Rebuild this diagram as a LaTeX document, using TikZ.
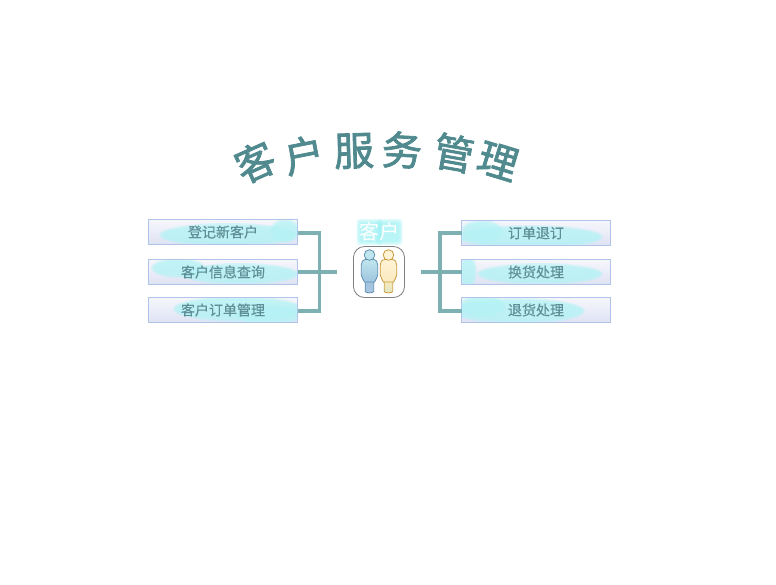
\documentclass[tikz,border=0pt]{standalone}
\usepackage{fontspec}
\setmainfont{Noto Sans CJK SC}
\newfontfamily\titlefont{Noto Sans CJK SC}[FakeBold=1.9]
\newfontfamily\itemfont{Noto Sans CJK SC}[FakeBold=0.35]
\definecolor{boxline}{HTML}{AFC4E8}
\definecolor{conn}{HTML}{7CB0B2}
\definecolor{labeltext}{HTML}{5F8F98}
\definecolor{titletext}{HTML}{508A8E}
\definecolor{blobc}{HTML}{B4F3F5}
\definecolor{lav}{HTML}{DFE2F4}
\definecolor{glowc}{HTML}{8FEFF2}
\definecolor{bluea}{HTML}{9FC4DE}
\definecolor{blueb}{HTML}{A9C4E2}
\definecolor{bluec}{HTML}{BFE6EE}
\definecolor{blueline}{HTML}{5F8FB0}
\definecolor{yela}{HTML}{FBE9BF}
\definecolor{yelb}{HTML}{DDE6C0}
\definecolor{yelc}{HTML}{FFF4D6}
\definecolor{yelline}{HTML}{C99A3A}
\tikzset{
  x=1pt,y=-1pt,
  every node/.style={inner sep=0pt,outer sep=0pt},
  blob/.style={fill=blobc,opacity=.42},
  itembox/.style={draw=boxline,line width=1.3pt,minimum width=149pt,minimum height=25pt,
    font=\itemfont\fontsize{14}{14}\selectfont,text=labeltext},
  connector/.style={draw=conn,line width=3.2pt},
  titlechar/.style={font=\titlefont\fontsize{40}{40}\selectfont,text=titletext},
  glowpatch/.style={fill=glowc,opacity=.28},
}
\newcommand{\softblob}[4]{%
  \foreach \g in {3,1.5,0}{\fill[blob] (#1,#2) ellipse ({#3+\g} and {#4+\g});}}
% backdrop of an item box: #1 x, #2 y of its centre, #3 the soft patches
\newcommand{\backdrop}[3]{%
  \begin{scope}
    \clip (#1-74.5,#2-12.5) rectangle (#1+74.5,#2+12.5);
    \shade[top color=lav!30!white,bottom color=lav] (#1-74.5,#2-12.5) rectangle (#1+74.5,#2+12.5);
    #3
  \end{scope}}
\newcommand{\glowat}[2]{%
  \foreach \g in {4,2.5,1}{\fill[glowpatch,rounded corners=3pt] (#1-9-\g,#2-9-\g) rectangle (#1+9+\g,#2+9+\g);}}
\newcommand{\personicon}[5]{%
  \begin{scope}[shift={(#1,250)}]
    \draw[draw=#2,line width=.8pt,top color=#3,bottom color=#4]
      (-4.2,30) -- (-4.2,41.5) .. controls (-4.2,43.3) and (4.2,43.3) .. (4.2,41.5) -- (4.2,30) -- cycle;
    \draw[draw=#2,line width=.8pt,top color=#5,bottom color=#3]
      (-3,9.5) .. controls (-7,9.5) and (-8.2,12) .. (-8.2,15) -- (-8.2,25)
      .. controls (-8.2,28) and (-6,29) .. (-5,32) -- (5,32)
      .. controls (6,29) and (8.2,28) .. (8.2,25) -- (8.2,15)
      .. controls (8.2,12) and (7,9.5) .. (3,9.5) -- cycle;
    \draw[draw=#2,line width=.8pt,fill=#5] (0,5) circle (5.3);
  \end{scope}}
\begin{document}
\begin{tikzpicture}
\useasboundingbox (0,0) rectangle (776,584);
% title
\node[titlechar,rotate=24,xscale=.98] (t1) at (255,162) {客};
\node[titlechar,rotate=11] (t2) at (304,155) {户};
\node[titlechar,rotate=2] (t3) at (354,151) {服};
\node[titlechar,rotate=-3] (t4) at (402,150) {务};
\node[titlechar,rotate=-10] (t5) at (454,153) {管};
\node[titlechar,rotate=-17] (t6) at (498,161) {理};
% item backdrops
\backdrop{223}{232}{\softblob{228}{235}{66}{9}\softblob{285}{231}{12}{9}}
\backdrop{223}{272}{\softblob{178}{268}{24}{7}\softblob{240}{274}{56}{8}}
\backdrop{223}{310}{\softblob{238}{309}{62}{10}\softblob{270}{315}{30}{7}}
\backdrop{536}{233}{\softblob{530}{237}{70}{9}\softblob{482}{231}{18}{8}}
\backdrop{536}{272}{\softblob{540}{274}{60}{8}\softblob{468}{272}{6}{13}}
\backdrop{536}{310}{\softblob{518}{311}{64}{10}\softblob{482}{306}{20}{8}}
% items
\node[itembox] (l1) at (223,232) {登记新客户};
\node[itembox] (l2) at (223,272) {客户信息查询};
\node[itembox] (l3) at (223,310) {客户订单管理};
\node[itembox] (r1) at (536,233) {订单退订};
\node[itembox] (r2) at (536,272) {换货处理};
\node[itembox] (r3) at (536,310) {退货处理};
% connectors
\coordinate (lj) at (337,272);
\coordinate (rj) at (421,272);
\coordinate (lbar) at (319.5,272);
\coordinate (rbar) at (440,272);
\draw[connector] ([yshift=-1pt]l1.east) -| (lbar) |- ([yshift=-1pt]l3.east);
\draw[connector] (l2.east) -- (lj);
\draw[connector] (r1.west) -| (rbar) |- ([yshift=-1pt]r3.west);
\draw[connector] (rj) -- (r2.west);
% customer icon
\glowat{369.5}{232}
\glowat{389.5}{232}
\node[font=\fontsize{20}{20}\selectfont,text=white] (cust) at (379.5,232) {客户};
\node[draw=black!50,line width=.8pt,rounded corners=11pt,minimum width=51pt,minimum height=51pt,fill=white] (iconbox) at (379,272) {};
\personicon{369.5}{blueline}{bluea}{blueb}{bluec}
\personicon{388.5}{yelline}{yela}{yelb}{yelc}
\end{tikzpicture}
\end{document}
